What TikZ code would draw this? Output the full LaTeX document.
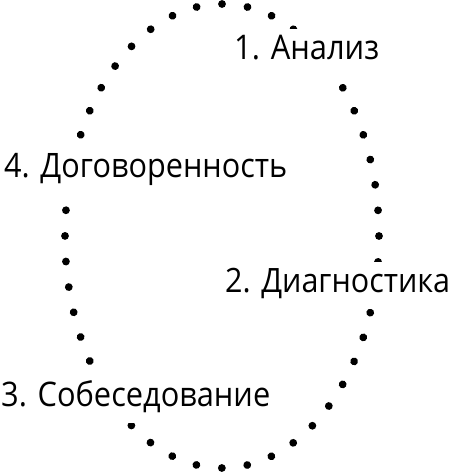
\documentclass[tikz,border=0pt]{standalone}
\usepackage{fontspec}
\usepackage{graphicx}
\setmainfont{Open Sans}
\usetikzlibrary{decorations.markings}
\newcommand{\fitlbl}[2]{\scalebox{1}[1.1]{\resizebox{#1}{!}{#2}}}
\begin{document}
\begin{tikzpicture}[x=1pt,y=1pt,
  dotring/.style={decoration={markings,
      mark=between positions 0 and 0.99 step 0.0208333 with {\fill[black] (0,0) circle (3.9);}},
    decorate},
  lbl/.style={fill=white, inner sep=0pt, text height=31pt, text depth=16pt, anchor=base west}]
\useasboundingbox (0,0) rectangle (451,473);
\coordinate (c) at (222,237);
\path[dotring] (c) ellipse [x radius=157, y radius=232];
\node[lbl] (a1) at (234,413) {\fitlbl{145pt}{1. Анализ}};
\node[lbl] (a2) at (225,180) {\fitlbl{225pt}{2. Диагностика}};
\node[lbl] (a3) at (1,66) {\fitlbl{269pt}{3. Собеседование}};
\node[lbl] (a4) at (4,295) {\fitlbl{283pt}{4. Договоренность}};
\end{tikzpicture}
\end{document}
